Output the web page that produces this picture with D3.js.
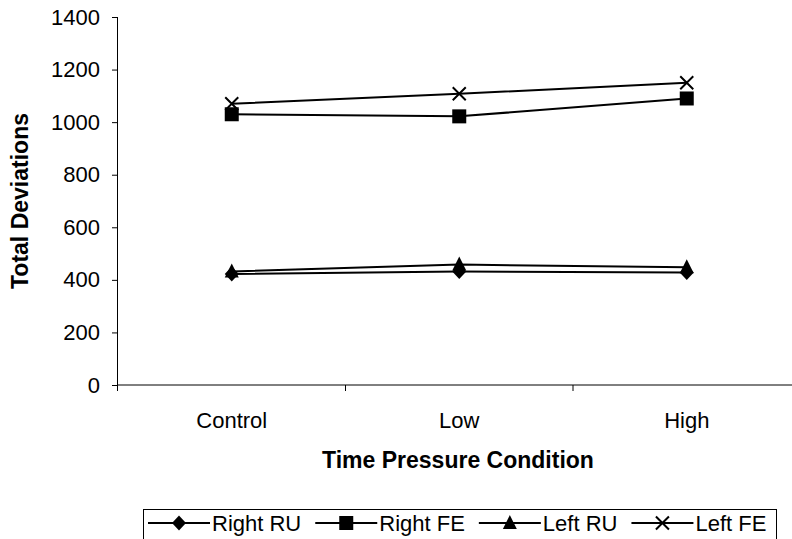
<!DOCTYPE html>
<html>
<head>
<meta charset="utf-8">
<script src="https://cdn.jsdelivr.net/npm/d3@7"></script>
<style>
  html, body { margin: 0; padding: 0; background: #fff; }
  svg { display: block; font-family: "Liberation Sans", Arial, sans-serif; }
</style>
</head>
<body>
<svg id="chart" width="792" height="539"></svg>
<script>
// Time pressure conditions on the x axis
const categories = ["Control", "Low", "High"];

// Total deviations per series
const rightRU = [422, 432, 428];
const rightFE = [1030, 1022, 1090];
const leftRU = [432, 458, 448];
const leftFE = [1070, 1108, 1150];

const yTicks = [0, 200, 400, 600, 800, 1000, 1200, 1400];

const series = [
  { name: "Right RU", values: rightRU, symbol: "diamond" },
  { name: "Right FE", values: rightFE, symbol: "square" },
  { name: "Left RU", values: leftRU, symbol: "triangle" },
  { name: "Left FE", values: leftFE, symbol: "cross" }
];

const FS = 22;
const TITLE_FS = 23;
const svg = d3.select("#chart");
const plot = { left: 118, right: 800.5, top: 17, bottom: 385 };

const x = d3.scaleBand().domain(categories).range([plot.left, plot.right]);
const y = d3.scaleLinear().domain([0, 1400]).range([plot.bottom, plot.top]);

// Y axis
const yAxis = svg.append("g")
  .attr("transform", `translate(${plot.left},0)`)
  .call(d3.axisLeft(y).tickValues(yTicks).tickSize(6).tickPadding(12).tickFormat(d3.format("d")));
yAxis.select(".domain").attr("stroke", "#000").attr("d", `M-0.5,${plot.top}V${plot.bottom + 6}`);
yAxis.selectAll(".tick line").attr("stroke", "#000");
yAxis.selectAll(".tick text").attr("font-size", FS).attr("fill", "#000");

// X axis with ticks between categories
const xAxis = svg.append("g")
  .attr("transform", `translate(0,${plot.bottom})`);
xAxis.append("line")
  .attr("x1", plot.left).attr("x2", plot.right)
  .attr("stroke", "#000");
const bounds = categories.map(c => x(c) + x.bandwidth());
xAxis.selectAll("line.tk").data(bounds).join("line")
  .attr("class", "tk")
  .attr("x1", d => d).attr("x2", d => d)
  .attr("y1", 0).attr("y2", 6)
  .attr("stroke", "#000");
xAxis.selectAll("text").data(categories).join("text")
  .attr("x", d => x(d) + x.bandwidth() / 2)
  .attr("y", 43)
  .attr("text-anchor", "middle")
  .attr("font-size", FS)
  .text(d => d);

// Axis titles
svg.append("text")
  .attr("x", 458).attr("y", 468)
  .attr("text-anchor", "middle")
  .attr("font-size", TITLE_FS).attr("font-weight", "bold")
  .text("Time Pressure Condition");
svg.append("text")
  .attr("transform", `translate(28,${(plot.top + plot.bottom) / 2}) rotate(-90)`)
  .attr("text-anchor", "middle")
  .attr("font-size", TITLE_FS).attr("font-weight", "bold")
  .text("Total Deviations");

// Marker shapes
function drawMarker(g, symbol, cx, cy) {
  if (symbol === "diamond") {
    g.append("path").attr("d", `M${cx},${cy - 7.5}L${cx + 7},${cy}L${cx},${cy + 7.5}L${cx - 7},${cy}Z`).attr("fill", "#000");
  } else if (symbol === "square") {
    g.append("rect").attr("x", cx - 7).attr("y", cy - 7).attr("width", 14).attr("height", 14).attr("fill", "#000");
  } else if (symbol === "triangle") {
    g.append("path").attr("d", `M${cx},${cy - 8}L${cx + 7},${cy + 6}L${cx - 7},${cy + 6}Z`).attr("fill", "#000");
  } else {
    g.append("path").attr("d", `M${cx - 6.5},${cy - 6.5}L${cx + 6.5},${cy + 6.5}M${cx + 6.5},${cy - 6.5}L${cx - 6.5},${cy + 6.5}`)
      .attr("stroke", "#000").attr("stroke-width", 2).attr("fill", "none");
  }
}

const line = d3.line()
  .x((d, i) => x(categories[i]) + x.bandwidth() / 2)
  .y(d => y(d));

series.forEach(s => {
  const g = svg.append("g");
  g.append("path").attr("d", line(s.values))
    .attr("fill", "none").attr("stroke", "#000").attr("stroke-width", 2);
  s.values.forEach((v, i) => drawMarker(g, s.symbol, x(categories[i]) + x.bandwidth() / 2, y(v)));
});

// Legend: entries laid out left to right inside a framed box
const legend = svg.append("g");
legend.append("rect")
  .attr("x", 143.5).attr("y", 509.5).attr("width", 633).attr("height", 40)
  .attr("fill", "none").attr("stroke", "#000");
let lx = 148;
const cy = 523;
const segLen = 62;
series.forEach(s => {
  legend.append("line").attr("x1", lx).attr("x2", lx + segLen).attr("y1", cy).attr("y2", cy)
    .attr("stroke", "#000").attr("stroke-width", 2);
  drawMarker(legend, s.symbol, lx + segLen / 2, cy);
  const t = legend.append("text").attr("x", lx + segLen + 2).attr("y", cy + 8)
    .attr("font-size", FS).text(s.name);
  lx += segLen + 2 + t.node().getComputedTextLength() + 14;
});
</script>
</body>
</html>
